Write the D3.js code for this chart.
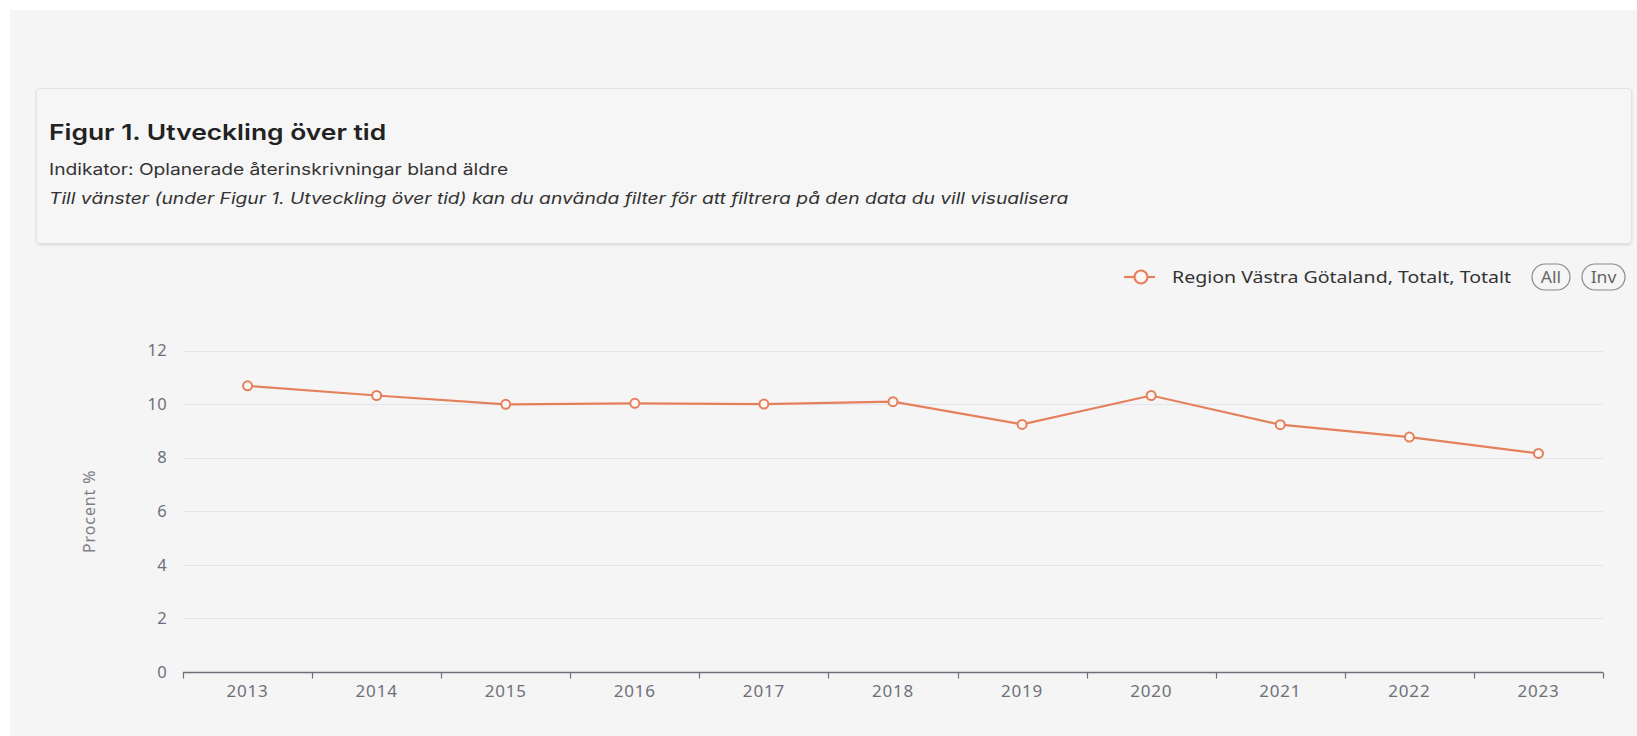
<!DOCTYPE html>
<html>
<head>
<meta charset="utf-8">
<script src="https://cdn.jsdelivr.net/npm/d3@7"></script>
<style>
  body { margin: 0; background: #ffffff; }
  #container { width: 1637px; height: 736px; }
</style>
</head>
<body>
<div id="container"></div>
<script>
/* CONSTANTS AND GLOBALS */
const width = 1637,
  height = 736,
  margin = { top: 350.5, bottom: 64, left: 183, right: 34 };

/* DATA */
const years = ["2013", "2014", "2015", "2016", "2017", "2018", "2019", "2020", "2021", "2022", "2023"];
const values = [10.68, 10.32, 9.99, 10.03, 10.0, 10.09, 9.24, 10.32, 9.23, 8.77, 8.16];
const yTicks = [0, 2, 4, 6, 8, 10, 12];
const seriesName = "Region Västra Götaland, Totalt, Totalt";
const titleText = "Figur 1. Utveckling över tid";
const subtitleText = "Indikator: Oplanerade återinskrivningar bland äldre";
const noteText = "Till vänster (under Figur 1. Utveckling över tid) kan du använda filter för att filtrera på den data du vill visualisera";
const yAxisName = "Procent %";

const lineColor = "#e5805d";

/* HTML ELEMENTS */
const svg = d3.select("#container")
  .append("svg")
  .attr("width", width)
  .attr("height", height)
  .style("font-family", "'Noto Sans', sans-serif");

// page background (light grey panel, white strip on top/left)
svg.append("rect")
  .attr("x", 10).attr("y", 10)
  .attr("width", width - 10).attr("height", height - 10)
  .attr("fill", "#f5f5f5");

/* header card */
const defs = svg.append("defs");
const shadow = defs.append("filter").attr("id", "shadow")
  .attr("x", "-2%").attr("y", "-10%").attr("width", "104%").attr("height", "125%");
shadow.append("feDropShadow")
  .attr("dx", 0).attr("dy", 1).attr("stdDeviation", 1.2)
  .attr("flood-color", "#000").attr("flood-opacity", 0.12);

svg.append("rect")
  .attr("x", 36.5).attr("y", 88.5)
  .attr("width", 1595).attr("height", 155)
  .attr("rx", 3)
  .attr("fill", "#f6f6f6")
  .attr("stroke", "#e3e3e3")
  .attr("filter", "url(#shadow)");

// the screenshot's text is a bit wider than the fonts we have, so stretch it sideways
const header = svg.append("g")
  .attr("transform", "translate(49, 0) scale(1.2, 1)")
  .style("font-family", "Inter, sans-serif");
header.append("text")
  .attr("x", 0).attr("y", 140)
  .attr("font-size", 22).attr("font-weight", 600)
  .attr("fill", "#222")
  .text(titleText);
header.append("text")
  .attr("x", 0).attr("y", 175)
  .attr("font-size", 16)
  .attr("fill", "#333")
  .text(subtitleText);
header.append("text")
  .attr("x", 0).attr("y", 204)
  .attr("font-size", 16).attr("font-style", "italic")
  .attr("fill", "#333")
  .text(noteText);

/* SCALES */
const xScale = d3.scaleBand()
  .domain(years)
  .range([margin.left, width - margin.right]);

const yScale = d3.scaleLinear()
  .domain([0, 12])
  .range([height - margin.bottom, margin.top]);

/* GRID */
svg.append("g")
  .selectAll("line")
  .data(yTicks.filter(d => d > 0))
  .join("line")
  .attr("x1", margin.left)
  .attr("x2", width - margin.right)
  .attr("y1", d => Math.round(yScale(d)) + 0.5)
  .attr("y2", d => Math.round(yScale(d)) + 0.5)
  .attr("stroke", "#e2e4ea");

/* AXES */
const yAxis = d3.axisLeft(yScale)
  .tickValues(yTicks)
  .tickSize(0)
  .tickPadding(16);
const yG = svg.append("g")
  .attr("transform", `translate(${margin.left}, 0)`)
  .call(yAxis);
yG.select(".domain").remove();
yG.selectAll("text")
  .attr("font-size", 16.5)
  .attr("letter-spacing", 0.3)
  .attr("font-family", "'Noto Sans', sans-serif")
  .attr("fill", "#6e7079");

const xAxis = d3.axisBottom(xScale).tickSize(0).tickPadding(12);
const xG = svg.append("g")
  .attr("transform", `translate(0, ${Math.round(yScale(0)) + 0.5})`)
  .call(xAxis);
xG.select(".domain")
  .attr("d", `M${margin.left},0H${width - margin.right}`)
  .attr("stroke", "#6e7079")
  .attr("stroke-width", 1.5);
xG.selectAll("text")
  .attr("font-size", 17)
  .attr("letter-spacing", 0.8)
  .attr("font-family", "'Noto Sans', sans-serif")
  .attr("fill", "#6e7079");

// tick marks on band boundaries
const boundaries = years.map(d => xScale(d)).concat([xScale.range()[1]]);
xG.selectAll(".bound")
  .data(boundaries)
  .join("line")
  .attr("class", "bound")
  .attr("x1", d => Math.round(d) + 0.5)
  .attr("x2", d => Math.round(d) + 0.5)
  .attr("y1", 0).attr("y2", 6)
  .attr("stroke", "#6e7079")
  .attr("stroke-width", 1.2);

// y axis name
svg.append("text")
  .attr("transform", `translate(95, ${yScale(6)}) rotate(-90)`)
  .attr("text-anchor", "middle")
  .attr("font-size", 16)
  .attr("letter-spacing", 0.9)
  .attr("fill", "#7d7f87")
  .text(yAxisName);

/* LINE */
const data = years.map((y, i) => ({ year: y, value: values[i] }));
const cx = d => xScale(d.year) + xScale.bandwidth() / 2;

svg.append("path")
  .datum(data)
  .attr("fill", "none")
  .attr("stroke", lineColor)
  .attr("stroke-width", 2.2)
  .attr("d", d3.line().x(cx).y(d => yScale(d.value)));

svg.selectAll(".pt")
  .data(data)
  .join("circle")
  .attr("class", "pt")
  .attr("cx", cx)
  .attr("cy", d => yScale(d.value))
  .attr("r", 4.5)
  .attr("fill", "#fdf6f2")
  .attr("stroke", lineColor)
  .attr("stroke-width", 2);

/* LEGEND */
const legend = svg.append("g").attr("transform", "translate(0, 277)");
legend.append("line")
  .attr("x1", 1124).attr("x2", 1155)
  .attr("stroke", lineColor).attr("stroke-width", 2.2);
legend.append("circle")
  .attr("cx", 1141).attr("r", 6.5)
  .attr("fill", "#fdf6f2")
  .attr("stroke", lineColor).attr("stroke-width", 2.2);
legend.append("text")
  .attr("transform", "translate(1172, 0) scale(1.15, 1)")
  .attr("dy", "0.35em")
  .attr("font-size", 17)
  .attr("fill", "#333")
  .text(seriesName);

const pills = [{ label: "All", x: 1532, w: 38 }, { label: "Inv", x: 1582, w: 43 }];
const pill = legend.selectAll(".pill")
  .data(pills)
  .join("g")
  .attr("class", "pill");
pill.append("rect")
  .attr("x", d => d.x).attr("y", -13)
  .attr("width", d => d.w).attr("height", 26)
  .attr("rx", 13)
  .attr("fill", "none")
  .attr("stroke", "#8a8a8a").attr("stroke-width", 1.2);
pill.append("text")
  .attr("transform", d => `translate(${d.x + d.w / 2}, 0) scale(1.1, 1)`)
  .attr("dy", "0.35em")
  .attr("text-anchor", "middle")
  .attr("font-size", 16)
  .attr("fill", "#666")
  .text(d => d.label);
</script>
</body>
</html>
